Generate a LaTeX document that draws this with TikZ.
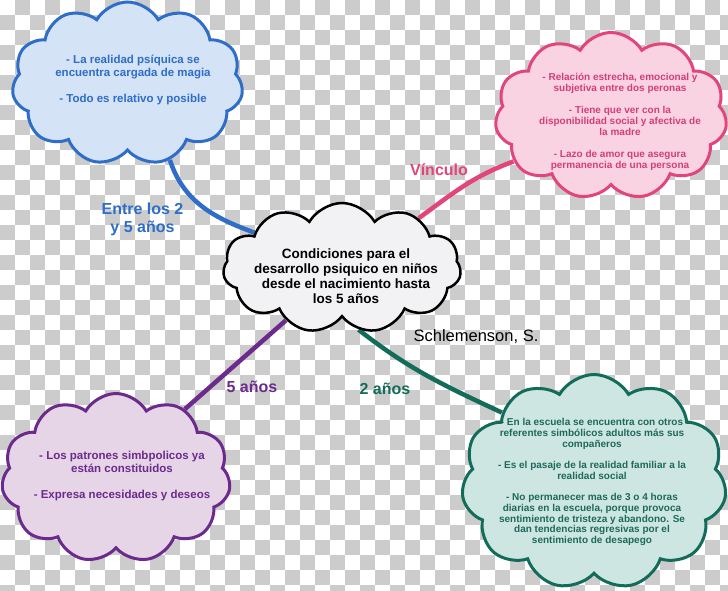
\documentclass[tikz,border=0pt]{standalone}
\usepackage{fontspec}
\setmainfont{Liberation Sans}
\usetikzlibrary{shapes.symbols}
\definecolor{chk}{HTML}{CCCCCC}
\definecolor{bluel}{HTML}{2E6DC8}
\definecolor{bluef}{HTML}{D5E3F6}
\definecolor{pinkl}{HTML}{E2457C}
\definecolor{pinkf}{HTML}{FAD3E3}
\definecolor{pinkt}{HTML}{D43E78}
\definecolor{centf}{HTML}{F2F2F4}
\definecolor{purpl}{HTML}{6C2B8C}
\definecolor{purpf}{HTML}{E6D4E7}
\definecolor{greenl}{HTML}{136C59}
\definecolor{greenf}{HTML}{CEE6E2}
\definecolor{greent}{HTML}{1C6A5A}
\pgfdeclarelayer{bg}
\pgfdeclarelayer{lines}
\pgfsetlayers{bg,lines,main}
\tikzset{
  cloudbox/.style={cloud, cloud puffs=11, cloud puff arc=120, cloud ignores aspect,
    inner sep=0pt, line width=3pt},
  conn/.style={line width=4.5pt},
  ctext/.style={align=center, font=\bfseries\fontsize{11.5}{12.6}\selectfont},
  stext/.style={align=center, font=\bfseries\fontsize{10}{10.8}\selectfont},
  lbl/.style={align=center, font=\bfseries\fontsize{16}{18}\selectfont}
}
\begin{document}
\begin{tikzpicture}[x=1pt,y=-1pt]
\useasboundingbox (0,0) rectangle (728,591);
\begin{pgfonlayer}{bg}
\begin{scope}
\clip (0,0) rectangle (728,591);
\fill[white] (0,0) rectangle (728,591);
\foreach \j in {0,2,...,38} \foreach \i in {1,3,...,47} \fill[chk] (\i*15,\j*15) rectangle ++(15,15);
\foreach \j in {1,3,...,39} \foreach \i in {0,2,...,48} \fill[chk] (\i*15,\j*15) rectangle ++(15,15);
\end{scope}
\end{pgfonlayer}

% clouds
\node[cloudbox, draw=bluel, fill=bluef, minimum width=231pt, minimum height=163pt] (blue) at (127.5,83.5) {};
\node[cloudbox, draw=pinkl, fill=pinkf, minimum width=232pt, minimum height=167pt] (pink) at (611,116) {};
\node[cloudbox, draw=black, fill=centf, line width=2.5pt, minimum width=238pt, minimum height=130pt] (central) at (342,268) {};
\node[cloudbox, draw=purpl, fill=purpf, minimum width=229pt, minimum height=169pt] (purple) at (116,478) {};
\node[cloudbox, draw=greenl, fill=greenf, minimum width=265pt, minimum height=215pt] (green) at (594,482) {};

% texts
\node[ctext, text=bluel] (blueT) at (133,80) {- La realidad psíquica se\\encuentra cargada de magia\\[13pt]- Todo es relativo y posible};
\node[stext, text=pinkt, font=\bfseries\fontsize{10}{11}\selectfont] (pinkT) at (620,122) {- Relación estrecha, emocional y\\subjetiva entre dos peronas\\[11pt]- Tiene que ver con la\\disponibilidad social y afectiva de\\la madre\\[11pt]- Lazo de amor que asegura\\permanencia de una persona};
\node[align=center, font=\bfseries\fontsize{13.5}{15.2}\selectfont] (centralT) at (346,276) {Condiciones para el\\desarrollo psiquico en niños\\desde el nacimiento hasta\\los 5 años};
\node[ctext, text=purpl, font=\bfseries\fontsize{11.5}{13}\selectfont] (purpleT) at (122,476) {- Los patrones simbpolicos ya\\están constituidos\\[13pt]- Expresa necesidades y deseos};
\node[stext, text=greent] (greenT) at (592,482) {- En la escuela se encuentra con otros\\referentes simbólicos adultos más sus\\compañeros\\[10.5pt]- Es el pasaje de la realidad familiar a la\\realidad social\\[10.5pt]- No permanecer mas de 3 o 4 horas\\diarias en la escuela, porque provoca\\sentimiento de tristeza y abandono. Se\\dan tendencias regresivas por el\\sentimiento de desapego};

% connectors
\begin{pgfonlayer}{lines}
\draw[conn, bluel] (blue.-61) to[out=-72, in=160] (central.158);
\draw[conn, pinkl] (central.33) to[out=36, in=200] (pink.205);
\draw[conn, purpl] (central.223) -- (purple.45);
\draw[conn, greenl] (central.-75) to[out=-38, in=155] (green.143);
\end{pgfonlayer}

% labels
\node[lbl, text=bluel] (l1) at (142.5,219) {Entre los 2\\y 5 años};
\node[lbl, text=pinkl] (l2) at (439,170) {Vínculo};
\node[lbl, text=purpl] (l3) at (252,387) {5 años};
\node[lbl, text=greenl] (l4) at (385,389) {2 años};
\node[font=\fontsize{16.5}{18}\selectfont] (auth) at (476,337) {Schlemenson, S.};
\end{tikzpicture}
\end{document}
